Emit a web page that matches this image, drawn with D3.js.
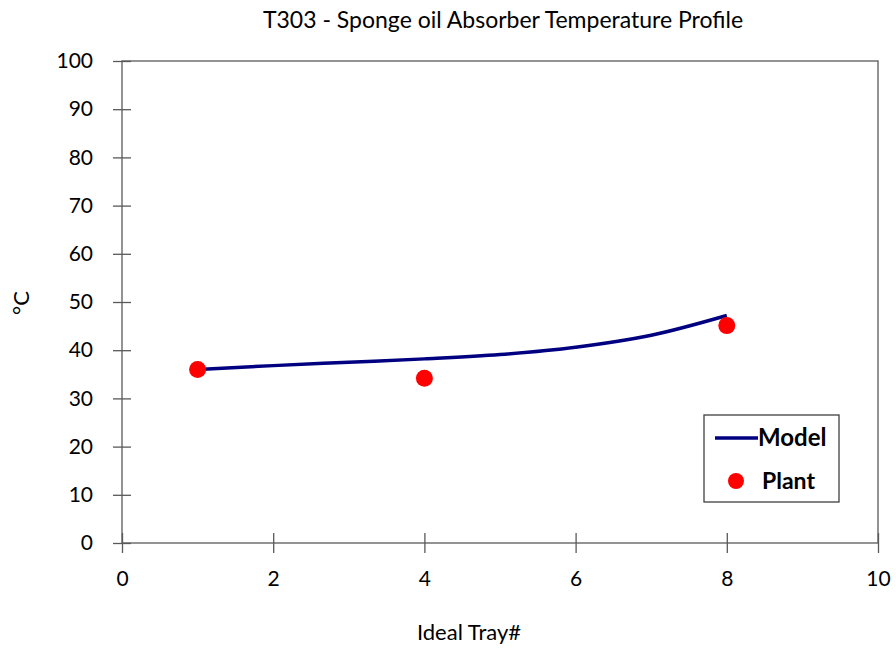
<!DOCTYPE html>
<html>
<head>
<meta charset="utf-8">
<script src="https://cdn.jsdelivr.net/npm/d3@7"></script>
<style>
  body { margin: 0; background: #fff; }
  text { font-family: Lato, "Open Sans", sans-serif; fill: #000; }
</style>
</head>
<body>
<script>
  // model profile (tray #, temperature)
  const modelTrays = [1, 2, 3, 4, 5, 6, 7, 8];
  const modelTemps = [36.0, 36.8, 37.5, 38.2, 39.1, 40.6, 43.1, 47.2];
  // plant measurements
  const plantTrays = [1, 4, 8];
  const plantTemps = [36.0, 34.2, 45.1];
  const xTicks = [0, 2, 4, 6, 8, 10];
  const yTicks = [0, 10, 20, 30, 40, 50, 60, 70, 80, 90, 100];

  const W = 896, H = 650;
  const margin = { top: 61, right: 18, bottom: 107, left: 122 };
  const width = W - margin.left - margin.right;
  const height = H - margin.top - margin.bottom;

  const svg = d3.select("body").append("svg").attr("width", W).attr("height", H);
  const g = svg.append("g").attr("transform", "translate(" + margin.left + "," + margin.top + ")");

  const x = d3.scaleLinear().domain([0, 10]).range([0, width]);
  const y = d3.scaleLinear().domain([0, 100]).range([height, 0]);

  const axisColor = "#595959";

  // plot box
  g.append("rect").attr("width", width).attr("height", height)
    .attr("fill", "none").attr("stroke", axisColor).attr("stroke-width", 1.3);

  // x axis (ticks cross the line)
  const xAxis = g.append("g").attr("transform", "translate(0," + height + ")")
    .call(d3.axisBottom(x).tickValues(xTicks).tickSize(0).tickPadding(24));
  xAxis.select(".domain").remove();
  xAxis.selectAll(".tick line").attr("y1", -10).attr("y2", 10)
    .attr("stroke", axisColor).attr("stroke-width", 1.3);
  xAxis.selectAll("text").style("font-size", "21px").attr("fill", "#000").attr("dy", "0.9em");

  // y axis
  const yAxis = g.append("g")
    .call(d3.axisLeft(y).tickValues(yTicks).tickSize(0).tickPadding(29));
  yAxis.select(".domain").remove();
  yAxis.selectAll(".tick line").attr("x1", -9).attr("x2", 9)
    .attr("stroke", axisColor).attr("stroke-width", 1.3);
  yAxis.selectAll("text").style("font-size", "21px").attr("fill", "#000");

  // model line
  const modelData = modelTrays.map((t, i) => [t, modelTemps[i]]);
  const line = d3.line().x(d => x(d[0])).y(d => y(d[1])).curve(d3.curveMonotoneX);
  g.append("path").datum(modelData).attr("d", line)
    .attr("fill", "none").attr("stroke", "#000080").attr("stroke-width", 3.5);

  // plant points
  g.selectAll(".dot").data(plantTrays).enter().append("circle")
    .attr("class", "dot")
    .attr("cx", t => x(t))
    .attr("cy", (t, i) => y(plantTemps[i]))
    .attr("r", 8.5).attr("fill", "#ff0000");

  // title and axis labels
  svg.append("text").attr("x", 503).attr("y", 28).attr("text-anchor", "middle")
    .style("font-size", "23px").text("T303 - Sponge oil Absorber Temperature Profile");
  svg.append("text").attr("x", 469).attr("y", 640).attr("text-anchor", "middle")
    .style("font-size", "22px").text("Ideal Tray#");
  svg.append("text").attr("transform", "translate(29,303) rotate(-90)").attr("text-anchor", "middle")
    .style("font-size", "22px").text("°C");

  // legend
  const lg = svg.append("g").attr("transform", "translate(704,415)");
  lg.append("rect").attr("width", 135).attr("height", 87)
    .attr("fill", "#fff").attr("stroke", "#404040").attr("stroke-width", 1.3);
  lg.append("line").attr("x1", 11).attr("x2", 54).attr("y1", 23).attr("y2", 23)
    .attr("stroke", "#000080").attr("stroke-width", 3.5);
  lg.append("text").attr("x", 54).attr("y", 31).style("font-size", "24px")
    .style("font-weight", "bold").text("Model");
  lg.append("circle").attr("cx", 32).attr("cy", 66).attr("r", 8).attr("fill", "#ff0000");
  lg.append("text").attr("x", 58).attr("y", 74).style("font-size", "23px")
    .style("font-weight", "bold").text("Plant");
</script>
</body>
</html>
